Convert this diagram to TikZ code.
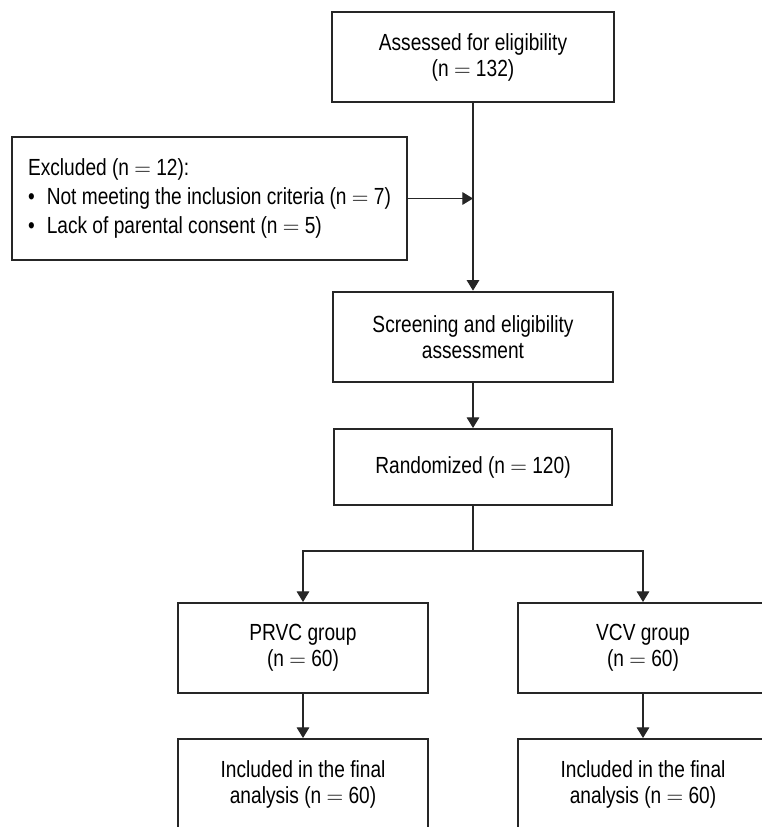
\documentclass[tikz,border=0pt]{standalone}
\usepackage{fontspec}
\setmainfont{Liberation Sans}[FakeStretch=0.82]
\usetikzlibrary{arrows.meta}
\newcommand{\eqs}{ $=$ }
\begin{document}
\begin{tikzpicture}[x=0.75pt,y=-0.75pt,
  box/.style={draw=black!85,line width=1.5pt,inner sep=0pt,align=center,
    font=\fontsize{17.5}{19.5}\selectfont},
  conn/.style={draw=black!85,line width=0.9pt,-{Triangle[width=9.5pt,length=8pt]}},
  plain/.style={draw=black!85,line width=0.9pt}]
\clip (0,0) rectangle (762,827);
\useasboundingbox (0,0) rectangle (762,827);
\node[box,minimum width=211.5pt,minimum height=67.5pt] (assess) at (473,57) {Assessed for eligibility\\(n\eqs 132)};
\node[box,minimum width=296pt,minimum height=92pt,align=left,
  font=\fontsize{17.5}{22}\selectfont] (excl) at (209.5,198.5)
  {Excluded (n\eqs 12):\\ •\hspace{9pt}Not meeting the inclusion criteria (n\eqs 7)\\ •\hspace{9pt}Lack of parental consent (n\eqs 5)};
\node[box,minimum width=210pt,minimum height=68pt] (screen) at (473,337) {Screening and eligibility\\assessment};
\node[box,minimum width=209pt,minimum height=57pt] (rand) at (473,467) {Randomized (n\eqs 120)};
\node[box,minimum width=187.5pt,minimum height=67.5pt] (prvc) at (303,648) {PRVC group\\(n\eqs 60)};
\node[box,minimum width=187.5pt,minimum height=67.5pt] (vcv) at (643,648) {VCV group\\(n\eqs 60)};
\node[box,minimum width=187.5pt,minimum height=67.5pt] (fin1) at (303,784) {Included in the final\\analysis (n\eqs 60)};
\node[box,minimum width=187.5pt,minimum height=67.5pt] (fin2) at (643,784) {Included in the final\\analysis (n\eqs 60)};
\coordinate (join) at (473,198.5);
\coordinate (split) at (473,551);
\draw[conn] (assess.south) -- (screen.north);
\draw[conn] (excl.east) -- (join);
\draw[conn] (screen.south) -- (rand.north);
\draw[plain] (rand.south) -- (split);
\draw[conn] (split) -| (prvc.north);
\draw[conn] (split) -| (vcv.north);
\draw[conn] (prvc.south) -- (fin1.north);
\draw[conn] (vcv.south) -- (fin2.north);
\end{tikzpicture}
\end{document}
